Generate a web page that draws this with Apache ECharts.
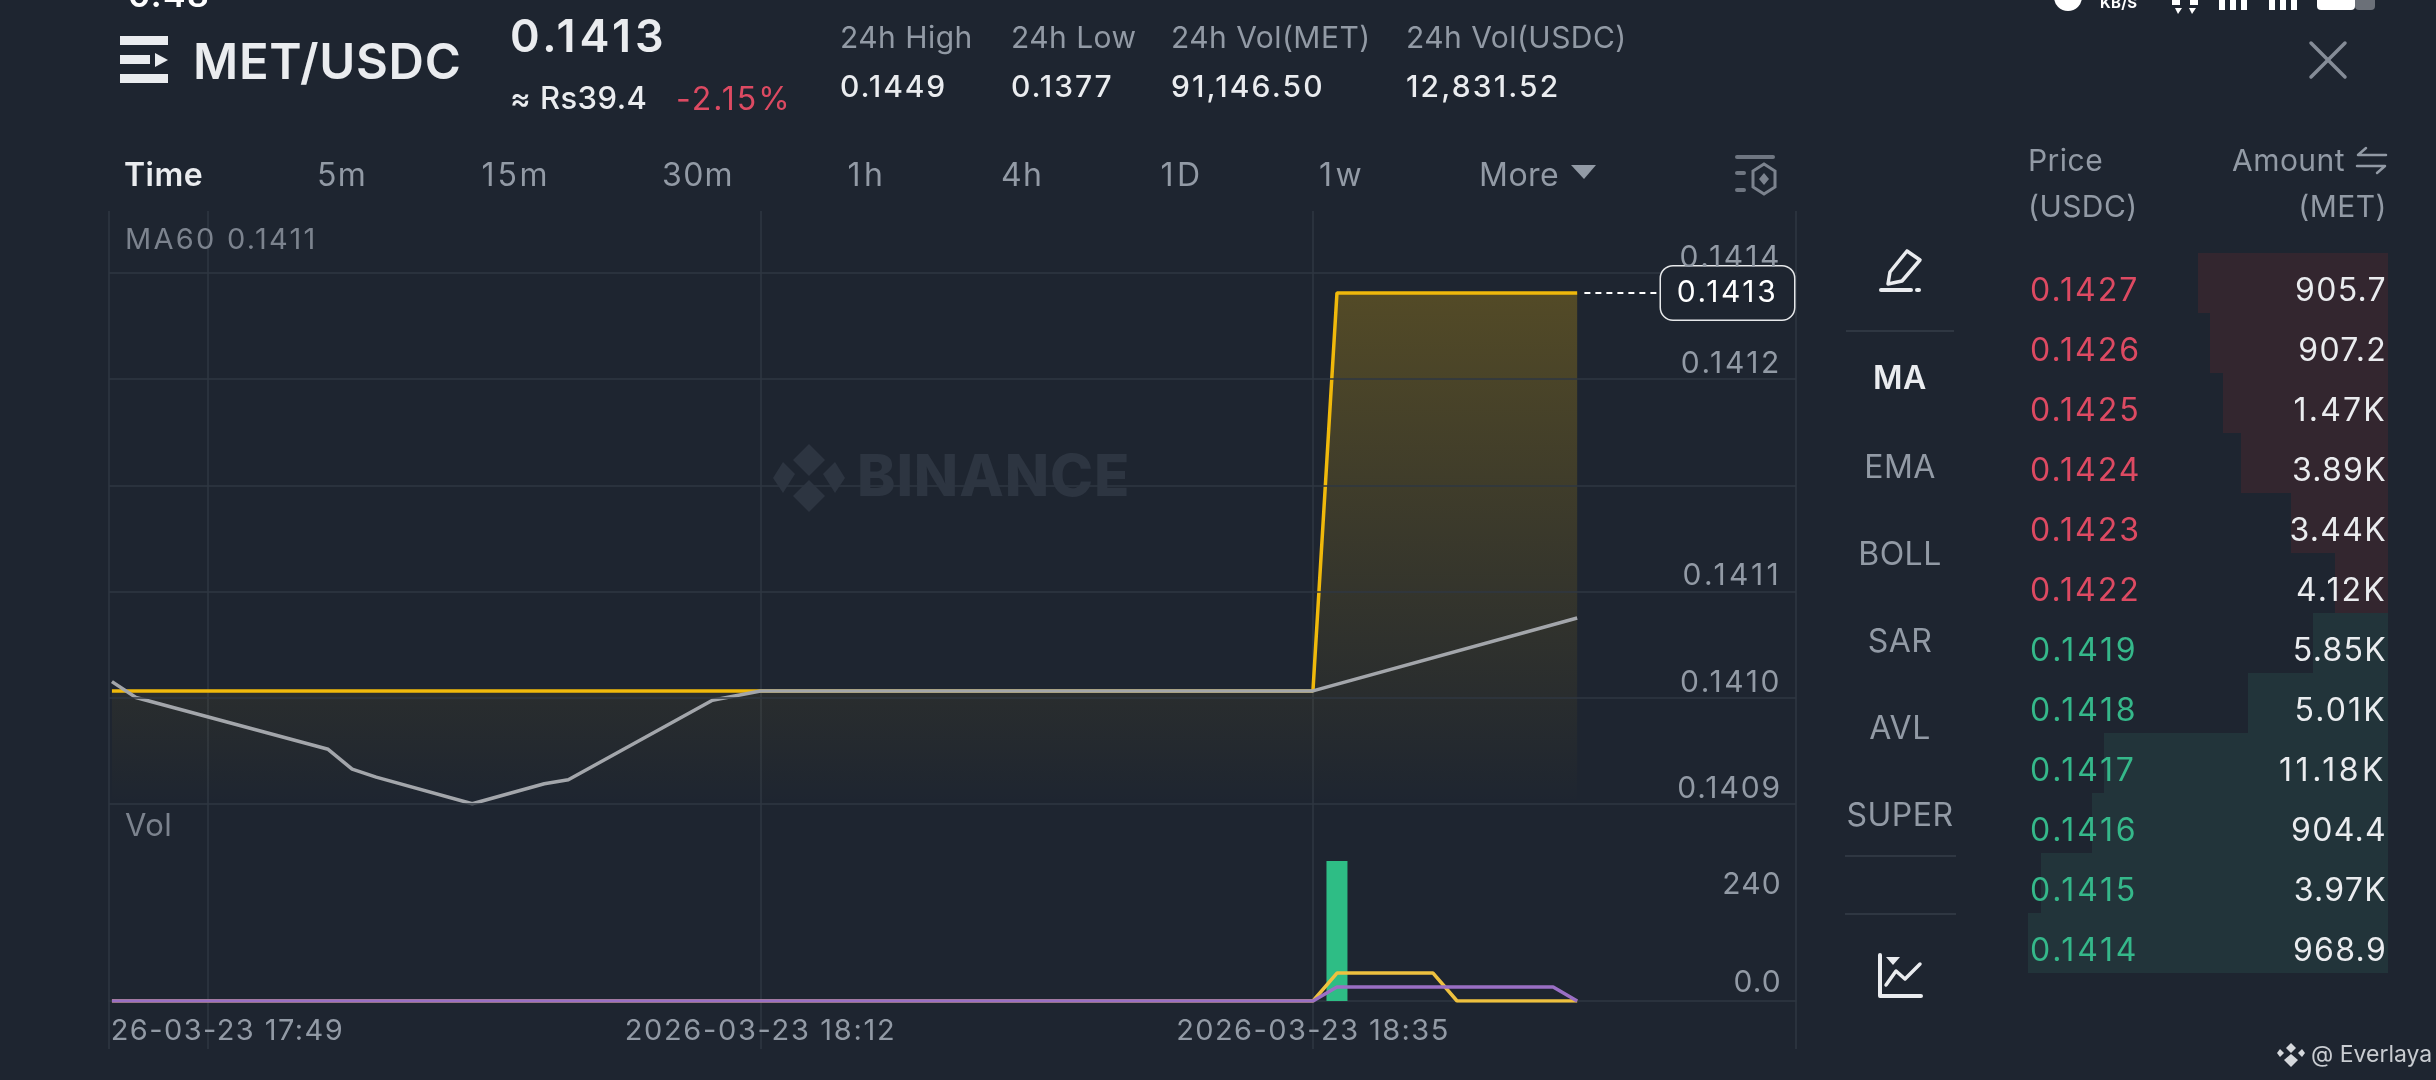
<!DOCTYPE html>
<html><head><meta charset="utf-8">
<style>html,body{margin:0;padding:0;background:#1e2530;overflow:hidden}#c{width:2436px;height:1080px}</style>
<script src="https://cdn.jsdelivr.net/npm/echarts@6/dist/echarts.min.js"></script>
</head><body><div id="c"></div>
<script>
// ---------- data ----------
const symbol = 'MET/USDC';
const lastPrice = '0.1413';
const statLabels = ['24h High','24h Low','24h Vol(MET)','24h Vol(USDC)'];
const statValues = ['0.1449','0.1377','91,146.50','12,831.52'];
const intervals = ['Time','5m','15m','30m','1h','4h','1D','1w','More'];
const indicators = ['MA','EMA','BOLL','SAR','AVL','SUPER'];

const xTickTimes = ['17:49','18:12','18:35'];
const xTickLabels = ['2026-03-23 17:49','2026-03-23 18:12','2026-03-23 18:35'];
const priceTickLabels = ['0.1409','0.1410','0.1411','','0.1412','0.1414'];
const volTickLabels = ['0.0','240',''];

const priceTimes = ['17:45','18:35','18:36','18:46'];
const priceValues = [0.1410,0.1410,0.1413,0.1413];
const ma60Times = ['17:45','17:46','17:54','17:55','17:56','18:00','18:03','18:04','18:10','18:12','18:35','18:46'];
const ma60Values = [0.141007,0.140995,0.140956,0.140941,0.140935,0.140915,0.140930,0.140933,0.140993,0.1410,0.1410,0.141055];

const volTimes = ['18:36'];
const volValues = [341];
const volMa5Times = ['17:45','18:35','18:36','18:40','18:41','18:46'];
const volMa5Values = [0,0,68,68,0,0];
const volMa10Times = ['17:45','18:35','18:36','18:45','18:46'];
const volMa10Values = [0,0,34,34,0];

const askPrices = ['0.1427','0.1426','0.1425','0.1424','0.1423','0.1422'];
const askAmounts = ['905.7','907.2','1.47K','3.89K','3.44K','4.12K'];
const askDepth = [190,178,165,147,97,53];
const bidPrices = ['0.1419','0.1418','0.1417','0.1416','0.1415','0.1414'];
const bidAmounts = ['5.85K','5.01K','11.18K','904.4','3.97K','968.9'];
const bidDepth = [75,140,284,296,347,360];

// ---------- reference font has wide tabular digits: widen text when painting ----------
const nativeFillText = CanvasRenderingContext2D.prototype.fillText;
CanvasRenderingContext2D.prototype.fillText = function (s, x, y, w) {
  const text = String(s), m = /(\d+(?:\.\d+)?)px/.exec(this.font), fs = m ? +m[1] : 30;
  const n = text.length || 1, digits = (text.match(/\d/g) || []).length, ones = (text.match(/1/g) || []).length;
  const em = text.indexOf('Everlaya') >= 0 ? 0 : digits / n >= 0.5 ? 0.04 + 0.14 * ones / n : 0.015;
  this.letterSpacing = (em * fs).toFixed(2) + 'px';
  return w === undefined ? nativeFillText.call(this, s, x, y) : nativeFillText.call(this, s, x, y, w);
};

// ---------- helpers ----------
const FONT = 'Inter, "Noto Sans", sans-serif';
const BG = '#1e2530', GRID = '#2f3742', GREY = '#929aa5', WHITE = '#eaecef', RED = '#dd4a62', GREEN = '#35b88a';
const toMin = t => { const p = t.split(':'); return (+p[0]) * 60 + (+p[1]); };
const pairs = (ts, vs) => ts.map((t, i) => [toMin(t), vs[i]]);
const X_MIN = 1064.878, X_MAX = 1135.11;
const Y_MIN = 0.140915, Y_STEP = 0.00008, Y_MAX = 0.141315;

const T = (x, y, text, size, fill, weight, align) => ({
  type: 'text', z: 50, silent: true, x, y,
  style: { text, fill, fontSize: size, fontWeight: weight || 400, fontFamily: FONT, align: align || 'left', verticalAlign: 'middle' }
});
const R = (x, y, w, h, fill, r, z) => ({ type: 'rect', z: z || 50, silent: true, shape: { x, y, width: w, height: h, r: r || 0 }, style: { fill } });
const L = (pts, stroke, w) => ({ type: 'polyline', z: 50, silent: true, shape: { points: pts }, style: { stroke, lineWidth: w, fill: null, lineCap: 'round', lineJoin: 'round' } });
const P = (pts, fill) => ({ type: 'polygon', z: 50, silent: true, shape: { points: pts }, style: { fill } });

const statX = [840, 1011, 1171, 1406];
const tabX = [124, 342, 516, 698, 867, 1022, 1182, 1342, 1479];
const indY = [379, 468, 555, 642, 729, 816];

const graphics = [
  // clipped status bar
  T(128, -3, '0.48', 34, '#ffffff', 600),
  { type: 'circle', z: 50, silent: true, shape: { cx: 2068, cy: -3, r: 14 }, style: { fill: '#ffffff' } },
  T(2100, 3, 'KB/S', 15, '#ffffff', 700),
  R(2172, 0, 8, 5, '#fff'), R(2190, 0, 8, 5, '#fff'), P([[2175, 8], [2182, 8], [2178, 14]], '#fff'), P([[2189, 8], [2196, 8], [2192, 14]], '#fff'),
  R(2219, 0, 6, 10, '#fff'), R(2230, 0, 6, 10, '#fff'), R(2241, 0, 6, 10, '#fff'),
  R(2269, 0, 6, 10, '#fff'), R(2280, 0, 6, 10, '#fff'), R(2291, 0, 6, 10, '#fff'),
  R(2317, -6, 38, 16, '#fff', 4), R(2355, -6, 20, 16, '#6b7078', 4),
  // symbol
  R(120, 36, 48, 9, WHITE), R(120, 55, 30, 9, WHITE), P([[155, 53], [168, 60], [155, 67]], WHITE), R(120, 74, 48, 9, WHITE),
  T(193, 64, symbol, 49, WHITE, 600),
  T(510, 38, lastPrice, 45, WHITE, 600),
  T(510, 100, '≈ Rs39.4', 31, WHITE, 500),
  T(676, 100, '-2.15%', 32, RED, 400),
  // close
  L([[2311, 43], [2345, 77]], '#858c97', 3.5), L([[2345, 43], [2311, 77]], '#858c97', 3.5),
  // interval tabs
  P([[1571, 165], [1596, 165], [1584, 179]], GREY),
  R(1735, 155, 40, 4, '#6f7681', 2),
  R(1735, 171, 11, 4, '#6f7681', 2), R(1735, 188, 11, 4, '#6f7681', 2),
  { type: 'polygon', z: 50, silent: true, shape: { points: [[1764, 164], [1775, 171], [1775, 187], [1764, 194], [1753, 187], [1753, 171]] }, style: { stroke: '#7c838e', lineWidth: 3, fill: BG } },
  P([[1764, 173], [1769, 179], [1764, 185], [1759, 179]], '#7c838e'),
  // watermark
  P([[809, 444], [825, 460], [809, 476], [793, 460]], '#2d3541'),
  P([[783, 462], [795, 474], [783, 493], [773, 478]], '#2d3541'),
  P([[835, 462], [845, 478], [835, 493], [823, 474]], '#2d3541'),
  P([[809, 480], [825, 496], [809, 512], [793, 496]], '#2d3541'),
  T(857, 479, 'BINANCE', 58, '#2d3541', 800),
  // panel labels
  T(125, 240, 'MA60 0.1411', 29, '#7c838e'),
  T(125, 827, 'Vol', 31, '#7c838e'),
  // mask clipping the first time label at the plot's left edge
  R(0, 1008, 108, 46, BG, 0, 100),
  // side bar
  L([[1907, 251], [1920, 260], [1902, 281], [1888, 284], [1890, 272], [1907, 251]], WHITE, 3.5),
  L([[1881, 290], [1911, 290]], WHITE, 4), L([[1917, 290], [1919, 290]], WHITE, 4),
  R(1846, 330, 108, 2, GRID), R(1845, 855, 111, 2, GRID), R(1845, 913, 111, 2, GRID),
  L([[1880, 955], [1880, 996], [1921, 996]], WHITE, 4),
  L([[1886, 985], [1896, 971], [1905, 979], [1920, 964]], WHITE, 3.5),
  P([[1886, 957], [1900, 957], [1893, 965]], WHITE),
  // order book header
  T(2028, 162, 'Price', 30, GREY), T(2028, 208, '(USDC)', 30, GREY),
  T(2345, 162, 'Amount', 30, GREY, 400, 'right'), T(2387, 208, '(MET)', 30, GREY, 400, 'right'),
  L([[2386, 155], [2358, 155], [2366, 148]], GREY, 2.5), L([[2357, 166], [2385, 166], [2377, 173]], GREY, 2.5),
  // credit
  P([[2291, 1043], [2296, 1048], [2291, 1053], [2286, 1048]], '#d5d8dc'),
  P([[2280, 1049], [2284, 1053], [2280, 1057], [2277, 1053]], '#d5d8dc'),
  P([[2302, 1049], [2305, 1053], [2302, 1057], [2298, 1053]], '#d5d8dc'),
  P([[2291, 1054], [2298, 1060], [2291, 1067], [2284, 1060]], '#d5d8dc'),
  T(2311, 1055, '@ Everlaya', 23, '#c9ccd1')
];
statLabels.forEach((s, i) => graphics.push(T(statX[i], 39, s, 30, GREY)));
statValues.forEach((s, i) => graphics.push(T(statX[i], 88, s, 30, WHITE, 500)));
intervals.forEach((s, i) => graphics.push(T(tabX[i], 176, s, 32, i === 0 ? WHITE : GREY, i === 0 ? 600 : 400, i === 0 || i === 8 ? 'left' : 'center')));
indicators.forEach((s, i) => graphics.push(T(1900, indY[i], s, 32, i === 0 ? WHITE : GREY, i === 0 ? 600 : 400, 'center')));

const hiddenX = (gridIndex) => ({ type: 'value', gridIndex, min: X_MIN, max: X_MAX, show: false });

const option = {
  backgroundColor: BG,
  animation: false,
  textStyle: { fontFamily: FONT },
  graphic: { elements: graphics },
  grid: [
    { left: 109, width: 1687, top: 211, height: 838 },
    { left: 109, width: 1687, top: 273, height: 530.7 },
    { left: 109, width: 1687, top: 804, height: 197 },
    { left: 2028, width: 360, top: 253, height: 720 }
  ],
  xAxis: [
    { type: 'value', gridIndex: 0, min: X_MIN, max: X_MAX, axisLine: { show: false }, axisLabel: { show: false },
      axisTick: { show: false, customValues: [X_MIN].concat(xTickTimes.map(toMin), [X_MAX]) },
      splitLine: { show: true, lineStyle: { color: GRID, width: 1.5 } } },
    hiddenX(1),
    { type: 'value', gridIndex: 2, min: X_MIN, max: X_MAX,
      axisLine: { show: true, onZero: false, lineStyle: { color: GRID, width: 1.5 } },
      axisTick: { show: false, customValues: xTickTimes.map(toMin) },
      splitLine: { show: false },
      axisLabel: { show: true, customValues: xTickTimes.map(toMin), margin: 16, fontSize: 29, color: GREY, fontFamily: FONT, hideOverlap: false,
        formatter: v => xTickLabels[xTickTimes.map(toMin).indexOf(v)] } },
    { type: 'value', gridIndex: 3, min: 0, max: 360, inverse: true, show: false }
  ],
  yAxis: [
    { type: 'value', gridIndex: 0, min: 0, max: 1, show: false },
    { type: 'value', gridIndex: 1, position: 'right', min: Y_MIN, max: Y_MAX, interval: Y_STEP, z: 5,
      axisLine: { show: false }, axisTick: { show: false },
      splitLine: { show: true, lineStyle: { color: GRID, width: 1.5 } },
      axisLabel: { inside: true, margin: 14, align: 'right', verticalAlign: 'bottom', fontSize: 30, color: GREY, fontFamily: FONT, showMinLabel: true, showMaxLabel: true, lineHeight: 30,
        formatter: (v, i) => priceTickLabels[i] } },
    { type: 'value', gridIndex: 2, position: 'right', min: 0, max: 480, interval: 240, z: 5,
      axisLine: { show: false }, axisTick: { show: false }, splitLine: { show: false },
      axisLabel: { inside: true, margin: 14, align: 'right', verticalAlign: 'bottom', fontSize: 30, color: GREY, fontFamily: FONT, showMinLabel: true, showMaxLabel: true, lineHeight: 36,
        formatter: (v, i) => volTickLabels[i] } },
    { type: 'category', gridIndex: 3, position: 'left', inverse: true, z: 5, data: askPrices.concat(bidPrices),
      axisLine: { show: false }, axisTick: { show: false }, splitLine: { show: false },
      axisLabel: { inside: true, margin: 2, align: 'left', verticalAlign: 'top', lineHeight: 16, fontSize: 32, fontFamily: FONT, interval: 0,
        color: (v, i) => (askPrices.indexOf(v) >= 0 ? RED : GREEN) } },
    { type: 'category', gridIndex: 3, position: 'right', inverse: true, z: 5, data: askAmounts.concat(bidAmounts),
      axisLine: { show: false }, axisTick: { show: false }, splitLine: { show: false },
      axisLabel: { inside: true, margin: 1, align: 'right', verticalAlign: 'top', lineHeight: 16, fontSize: 32, fontFamily: FONT, color: WHITE, interval: 0 } }
  ],
  series: [
    { name: 'Price', type: 'line', xAxisIndex: 1, yAxisIndex: 1, data: pairs(priceTimes, priceValues), symbol: 'none', z: 3, silent: true,
      lineStyle: { color: '#f0b90b', width: 3.5 },
      areaStyle: { origin: 'start', color: { type: 'linear', x: 0, y: 0, x2: 0, y2: 1, colorStops: [{ offset: 0, color: 'rgba(240,185,11,0.36)' }, { offset: 1, color: 'rgba(240,185,11,0)' }] } },
      markLine: { silent: true, symbol: 'none', animation: false, precision: 4,
        lineStyle: { color: '#ffffff', type: [6, 5], width: 2 },
        label: { show: true, position: 'end', distance: 0, offset: [66.5, 0], formatter: lastPrice, fontSize: 30, lineHeight: 35, color: '#fff', fontFamily: FONT, backgroundColor: BG, borderColor: '#e6e8ea', borderWidth: 1.5, borderRadius: 12, padding: [9, 0], width: 133, align: 'center' },
        data: [[{ coord: [1126.3, 0.1413] }, { coord: [1129.49, 0.1413] }]] } },
    { name: 'MA60', type: 'line', xAxisIndex: 1, yAxisIndex: 1, data: pairs(ma60Times, ma60Values), symbol: 'none', z: 4, silent: true,
      lineStyle: { color: '#a3a6ab', width: 3.5 } },
    { name: 'Vol', type: 'bar', xAxisIndex: 2, yAxisIndex: 2, data: pairs(volTimes, volValues), barWidth: 21, z: 3, silent: true,
      itemStyle: { color: '#2ebd85' } },
    { name: 'MA5', type: 'line', xAxisIndex: 2, yAxisIndex: 2, data: pairs(volMa5Times, volMa5Values), symbol: 'none', z: 4, silent: true,
      lineStyle: { color: '#eec13f', width: 3.5 } },
    { name: 'MA10', type: 'line', xAxisIndex: 2, yAxisIndex: 2, data: pairs(volMa10Times, volMa10Values), symbol: 'none', z: 5, silent: true,
      lineStyle: { color: '#9a6fc4', width: 3.5 } },
    { name: 'Depth', type: 'bar', xAxisIndex: 3, yAxisIndex: 3, data: askDepth.concat(bidDepth), barWidth: '100%', z: 2, silent: true,
      itemStyle: { color: p => (p.dataIndex < askDepth.length ? '#33262f' : '#22343a') } }
  ]
};
const chart = echarts.init(document.getElementById('c'), null, { renderer: 'canvas', width: 2436, height: 1080 });
chart.setOption(option);
</script></body></html>
